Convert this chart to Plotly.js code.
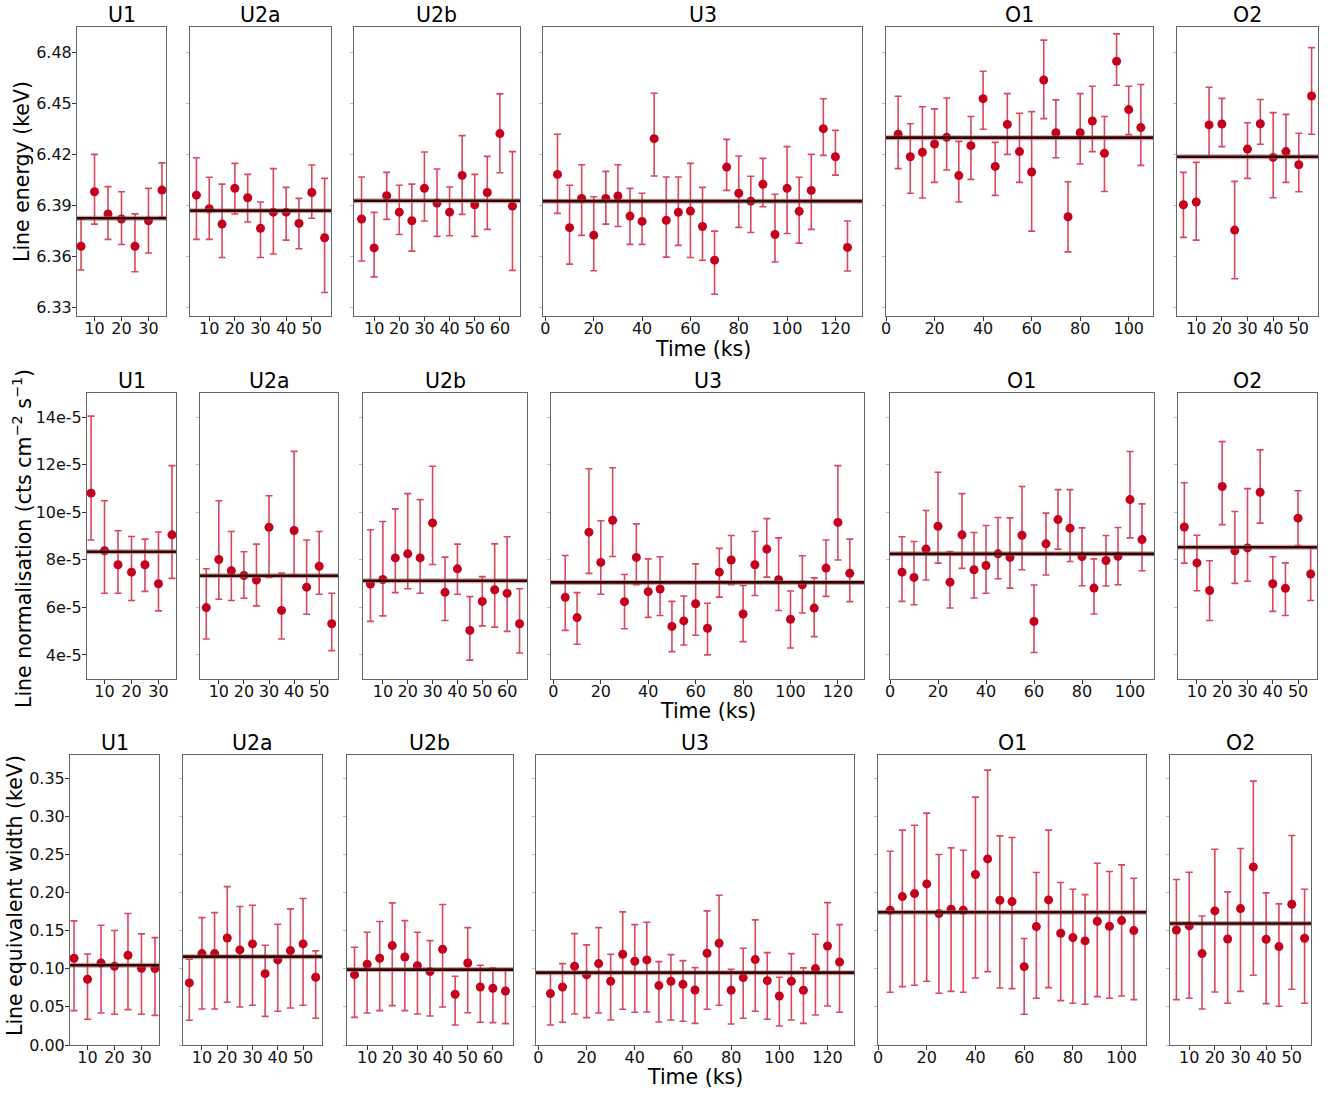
<!DOCTYPE html>
<html>
<head>
<meta charset="utf-8">
<script src="https://cdn.plot.ly/plotly-3.0.1.min.js"></script>
<style>
  body { margin: 0; background: #fff; }
  #chart { width: 1331px; height: 1093px; }
</style>
</head>
<body>
<div id="chart"></div>
<script>
// panels and their time bins (ks)
const panelNames = ["U1", "U2a", "U2b", "U3", "O1", "O2"];
const tU1 = [5, 10, 15, 20, 25, 30, 35];
const tU2a = [5, 10, 15, 20, 25, 30, 35, 40, 45, 50, 55];
const tU2b = [5, 10, 15, 20, 25, 30, 35, 40, 45, 50, 55, 60, 65];
const tU3 = [5, 10, 15, 20, 25, 30, 35, 40, 45, 50, 55, 60, 65, 70, 75, 80, 85, 90, 95, 100, 105, 110, 115, 120, 125];
const tO1 = [5, 10, 15, 20, 25, 30, 35, 40, 45, 50, 55, 60, 65, 70, 75, 80, 85, 90, 95, 100, 105];
const tO2 = [5, 10, 15, 20, 25, 30, 35, 40, 45, 50, 55];

const xTicks = [
  [10, 20, 30],
  [10, 20, 30, 40, 50],
  [10, 20, 30, 40, 50, 60],
  [0, 20, 40, 60, 80, 100, 120],
  [0, 20, 40, 60, 80, 100],
  [10, 20, 30, 40, 50]
];
const xRanges = [[3.5, 36.5], [2.5, 57.5], [2, 68], [-1, 131], [0, 110], [2.5, 57.5]];

// line energy (keV): value, upper bound, lower bound, mean
const eU1 = [6.366, 6.398, 6.385, 6.382, 6.366, 6.381, 6.399];
const eU1Hi = [6.382, 6.420, 6.401, 6.398, 6.385, 6.400, 6.415];
const eU1Lo = [6.352, 6.379, 6.370, 6.367, 6.351, 6.362, 6.383];
const eU2a = [6.396, 6.388, 6.379, 6.400, 6.3945, 6.3765, 6.386, 6.386, 6.3794, 6.3976, 6.371];
const eU2aHi = [6.418, 6.4065, 6.4025, 6.4147, 6.4082, 6.392, 6.4116, 6.4006, 6.3941, 6.4137, 6.4059];
const eU2aLo = [6.370, 6.370, 6.3594, 6.3849, 6.3802, 6.3594, 6.3614, 6.3696, 6.3645, 6.3824, 6.3388];
const eU2b = [6.382, 6.365, 6.3957, 6.386, 6.381, 6.400, 6.3914, 6.386, 6.4076, 6.3904, 6.3976, 6.4322, 6.3896];
const eU2bHi = [6.4067, 6.3859, 6.4094, 6.4018, 6.4025, 6.4214, 6.4114, 6.4008, 6.431, 6.4082, 6.4188, 6.4555, 6.4216];
const eU2bLo = [6.3573, 6.348, 6.3818, 6.3729, 6.3631, 6.3808, 6.3718, 6.3722, 6.3847, 6.3718, 6.3759, 6.4092, 6.3518];
const eU3 = [6.4082, 6.3769, 6.3941, 6.3725, 6.3941, 6.3955, 6.3837, 6.3806, 6.4292, 6.3812, 6.3859, 6.3867, 6.3776,
  6.3578, 6.4125, 6.3971, 6.3925, 6.4024, 6.3729, 6.400, 6.3865, 6.3988, 6.4351, 6.4186, 6.3653];
const eU3Hi = [6.4318, 6.4018, 6.4139, 6.3951, 6.410, 6.4139, 6.400, 6.3971, 6.4559, 6.4067, 6.4067, 6.4147, 6.4006,
  6.3749, 6.4288, 6.419, 6.4071, 6.4176, 6.3965, 6.4245, 6.4065, 6.420, 6.4527, 6.4341, 6.3808];
const eU3Lo = [6.3853, 6.3555, 6.3724, 6.3516, 6.379, 6.3776, 6.3671, 6.3671, 6.4073, 6.3596, 6.3665, 6.3594, 6.3578,
  6.3378, 6.3988, 6.3771, 6.3741, 6.3892, 6.3567, 6.3735, 6.3678, 6.3759, 6.4194, 6.4078, 6.3514];
const eO1 = [6.4318, 6.4186, 6.4212, 6.4261, 6.430, 6.4075, 6.4251, 6.4527, 6.4129, 6.4376, 6.4216, 6.4096, 6.4637,
  6.4327, 6.3833, 6.4327, 6.4396, 6.4206, 6.4747, 6.4463, 6.4357];
const eO1Hi = [6.4541, 6.438, 6.448, 6.4467, 6.4531, 6.4276, 6.4422, 6.4688, 6.427, 6.4557, 6.4441, 6.4451, 6.4871,
  6.452, 6.4039, 6.4557, 6.460, 6.4422, 6.4908, 6.460, 6.461];
const eO1Lo = [6.4116, 6.3971, 6.3943, 6.4035, 6.4108, 6.392, 6.4053, 6.4347, 6.3959, 6.420, 6.4035, 6.3749, 6.441,
  6.418, 6.3627, 6.4143, 6.4216, 6.3982, 6.4606, 6.4316, 6.4135];
const eO2 = [6.3904, 6.392, 6.4373, 6.4378, 6.3755, 6.4231, 6.438, 6.4182, 6.4216, 6.4139, 6.4543];
const eO2Hi = [6.4094, 6.4153, 6.4594, 6.4529, 6.4041, 6.4386, 6.4522, 6.4445, 6.4435, 6.4324, 6.4827];
const eO2Lo = [6.3712, 6.3696, 6.4186, 6.4245, 6.3469, 6.4059, 6.4259, 6.3945, 6.4035, 6.398, 6.4318];
const eMeans = [6.3824, 6.3869, 6.3927, 6.3925, 6.4298, 6.4186];

// line normalisation, in units of 1e-5 cts cm^-2 s^-1
const nU1 = [10.80, 8.38, 7.79, 7.48, 7.79, 6.99, 9.05];
const nU1Hi = [14.04, 10.48, 9.22, 8.98, 8.87, 9.17, 11.96];
const nU1Lo = [8.83, 6.59, 6.59, 6.29, 6.67, 5.85, 7.22];
const nU2a = [5.99, 8.01, 7.54, 7.34, 7.15, 9.37, 5.87, 9.23, 6.85, 7.73, 5.31];
const nU2aHi = [7.62, 10.48, 9.19, 8.34, 8.66, 10.69, 7.44, 12.56, 8.83, 9.19, 6.59];
const nU2aLo = [4.67, 6.34, 6.29, 6.38, 6.06, 7.26, 4.67, 7.36, 5.71, 6.55, 4.18];
const nU2b = [6.98, 7.17, 8.08, 8.25, 8.08, 9.55, 6.63, 7.62, 5.03, 6.25, 6.74, 6.59, 5.31];
const nU2bHi = [9.26, 9.61, 10.14, 10.78, 10.53, 11.93, 8.11, 8.66, 6.45, 7.29, 8.67, 8.97, 6.78];
const nU2bLo = [5.41, 5.64, 6.62, 6.78, 6.59, 7.80, 5.45, 6.55, 3.78, 5.22, 5.17, 4.99, 4.08];
const nU3 = [6.42, 5.57, 9.16, 7.89, 9.66, 6.24, 8.10, 6.66, 6.77, 5.20, 5.43, 6.15, 5.12, 7.48, 7.99, 5.72, 7.79,
  8.45, 7.16, 5.50, 6.95, 5.97, 7.65, 9.57, 7.43];
const nU3Hi = [8.18, 6.62, 11.83, 9.64, 11.87, 7.38, 9.51, 8.04, 8.13, 6.25, 6.48, 7.83, 6.17, 8.48, 9.02, 6.92, 9.19,
  9.73, 8.92, 6.69, 8.17, 7.24, 8.83, 11.96, 8.87];
const nU3Lo = [5.03, 4.45, 7.43, 6.55, 8.14, 5.10, 6.95, 5.58, 5.66, 4.14, 4.42, 4.83, 4.00, 6.43, 6.95, 4.56, 6.50,
  7.27, 5.87, 4.29, 5.76, 4.77, 6.46, 7.99, 6.24];
const nO1 = [7.48, 7.26, 8.45, 9.41, 7.06, 9.05, 7.58, 7.76, 8.25, 8.10, 9.03, 5.41, 8.67, 9.69, 9.33, 8.13, 6.81,
  7.97, 8.15, 10.53, 8.85];
const nO1Hi = [8.97, 8.77, 10.07, 11.68, 8.35, 10.78, 9.15, 9.44, 9.78, 9.76, 11.08, 6.94, 9.96, 10.95, 10.95, 9.34,
  8.04, 9.02, 9.36, 12.55, 10.35];
const nO1Lo = [6.25, 6.11, 7.15, 7.86, 5.97, 7.64, 6.39, 6.59, 7.20, 6.81, 7.58, 4.10, 7.36, 8.45, 7.93, 6.91, 5.72,
  6.90, 6.95, 8.92, 7.54];
const nO2 = [9.38, 7.87, 6.71, 11.08, 8.38, 8.50, 10.84, 6.99, 6.80, 9.75, 7.40];
const nO2Hi = [11.24, 9.03, 7.96, 12.97, 10.03, 10.99, 12.62, 8.13, 7.87, 10.90, 8.50];
const nO2Lo = [7.86, 6.70, 5.45, 9.48, 7.01, 7.10, 9.54, 5.83, 5.66, 8.60, 6.29];
const nMeans = [8.34, 7.33, 7.12, 7.05, 8.25, 8.53];
const normUnit = 1e-5;

// line equivalent width (keV)
const wU1 = [0.1138, 0.0862, 0.1076, 0.1033, 0.1177, 0.1006, 0.1002];
const wU1Hi = [0.1628, 0.1194, 0.1571, 0.1501, 0.1724, 0.1457, 0.1409];
const wU1Lo = [0.0451, 0.0337, 0.042, 0.0403, 0.0464, 0.0403, 0.0389];
const wU2a = [0.0814, 0.1199, 0.1199, 0.1404, 0.1247, 0.1326, 0.0936, 0.1116, 0.1238, 0.1326, 0.0888];
const wU2aHi = [0.1124, 0.1671, 0.1737, 0.2078, 0.1816, 0.1833, 0.1308, 0.1584, 0.1785, 0.1921, 0.1234];
const wU2aLo = [0.0324, 0.0473, 0.0473, 0.056, 0.0499, 0.0521, 0.0376, 0.0442, 0.0486, 0.0521, 0.035];
const wU2b = [0.0923, 0.1059, 0.1138, 0.1304, 0.1155, 0.1041, 0.0963, 0.1256, 0.0665, 0.1076, 0.0761, 0.0744, 0.0709];
const wU2bHi = [0.1282, 0.1479, 0.1619, 0.1864, 0.1632, 0.1479, 0.1369, 0.1842, 0.0901, 0.154, 0.1046, 0.1011, 0.098];
const wU2bLo = [0.0363, 0.042, 0.0451, 0.0516, 0.0451, 0.0407, 0.0381, 0.0499, 0.0263, 0.0424, 0.0298, 0.0293, 0.028];
const wU3 = [0.0674, 0.0761, 0.1033, 0.0919, 0.1068, 0.0836, 0.119, 0.1098, 0.1116, 0.0779, 0.0836, 0.0796, 0.0722,
  0.1203, 0.1334, 0.0718, 0.0884, 0.112, 0.0844, 0.0643, 0.0836, 0.0718, 0.1002, 0.1299, 0.1089];
const wU3Hi = [0.0941, 0.1068, 0.1461, 0.1313, 0.154, 0.119, 0.1746, 0.1579, 0.161, 0.1094, 0.1186, 0.1107, 0.1015,
  0.1759, 0.1964, 0.0993, 0.1269, 0.1641, 0.1212, 0.0888, 0.1199, 0.1011, 0.1453, 0.1868, 0.1579];
const wU3Lo = [0.0263, 0.0298, 0.0407, 0.0359, 0.042, 0.0328, 0.0468, 0.0429, 0.0433, 0.0302, 0.0328, 0.0311, 0.0284,
  0.0468, 0.0521, 0.0276, 0.035, 0.0442, 0.0337, 0.0249, 0.0328, 0.0284, 0.0394, 0.0512, 0.0429];
const wO1 = [0.1768, 0.1947, 0.1986, 0.2113, 0.1724, 0.1781, 0.1768, 0.2236, 0.2441, 0.1899, 0.1881, 0.1028, 0.1553,
  0.1903, 0.1466, 0.1409, 0.1365, 0.1623, 0.1558, 0.1632, 0.1501];
const wO1Hi = [0.2542, 0.2818, 0.2883, 0.3041, 0.2498, 0.2586, 0.2555, 0.3251, 0.3605, 0.2743, 0.2721, 0.1396, 0.2262,
  0.2818, 0.2131, 0.2043, 0.1973, 0.2384, 0.2275, 0.2363, 0.2188];
const wO1Lo = [0.0691, 0.0766, 0.0783, 0.0836, 0.0678, 0.0704, 0.0691, 0.0879, 0.0963, 0.0748, 0.0739, 0.0403, 0.0613,
  0.0753, 0.0582, 0.0547, 0.0534, 0.0634, 0.0613, 0.0643, 0.0595];
const wO2 = [0.1509, 0.1562, 0.1199, 0.1759, 0.1391, 0.1789, 0.2336, 0.1387, 0.1291, 0.1846, 0.14];
const wO2Hi = [0.217, 0.2266, 0.1693, 0.2568, 0.2008, 0.2577, 0.3461, 0.1995, 0.1851, 0.2748, 0.2043];
const wO2Lo = [0.0595, 0.0613, 0.0473, 0.0696, 0.0547, 0.0704, 0.0914, 0.0543, 0.0508, 0.0731, 0.0547];
const wMeans = [0.1046, 0.1159, 0.0989, 0.0949, 0.1741, 0.1593];

const times = [tU1, tU2a, tU2b, tU3, tO1, tO2];

const W = 1331, H = 1093;
const FONT = "DejaVu Sans, Liberation Sans, sans-serif";
const pointColor = "#c4001c";
const barColor = "rgba(200, 0, 30, 0.72)";
const BIG = 20.5;   // titles and axis labels
const TICK = 16;    // tick labels

// pixel boxes of each row (left/right edges of the six panels, top/bottom)
const rows = [
  {
    label: "Line energy (keV)", labelX: 22, labelY: 172,
    top: 26.7, bottom: 316, titleY: 14.5, timeY: 349,
    lefts: [77, 190, 354, 543, 886, 1177], rights: [166, 331, 520, 862, 1153, 1318],
    yRange: [6.325, 6.495],
    yTicks: [6.33, 6.36, 6.39, 6.42, 6.45, 6.48], yText: ["6.33", "6.36", "6.39", "6.42", "6.45", "6.48"],
    scale: 1,
    vals: [eU1, eU2a, eU2b, eU3, eO1, eO2],
    his: [eU1Hi, eU2aHi, eU2bHi, eU3Hi, eO1Hi, eO2Hi],
    los: [eU1Lo, eU2aLo, eU2bLo, eU3Lo, eO1Lo, eO2Lo],
    means: eMeans
  },
  {
    label: "Line normalisation (cts cm<sup>\u22122</sup> s<sup>\u22121</sup>)", labelX: 23, labelY: 539,
    top: 393.3, bottom: 678.7, titleY: 381, timeY: 711,
    lefts: [87, 200, 363, 551, 890, 1178], rights: [176, 338, 527, 864, 1154, 1317],
    yRange: [3e-5, 15e-5],
    yTicks: [4e-5, 6e-5, 8e-5, 10e-5, 12e-5, 14e-5], yText: ["4e-5", "6e-5", "8e-5", "10e-5", "12e-5", "14e-5"],
    scale: normUnit,
    vals: [nU1, nU2a, nU2b, nU3, nO1, nO2],
    his: [nU1Hi, nU2aHi, nU2bHi, nU3Hi, nO1Hi, nO2Hi],
    los: [nU1Lo, nU2aLo, nU2bLo, nU3Lo, nO1Lo, nO2Lo],
    means: nMeans
  },
  {
    label: "Line equivalent width (keV)", labelX: 15, labelY: 896,
    top: 755.3, bottom: 1045, titleY: 743, timeY: 1077,
    lefts: [70, 183, 347, 536, 878, 1170], rights: [159, 322, 513, 854, 1146, 1311],
    yRange: [0, 0.38],
    yTicks: [0, 0.05, 0.1, 0.15, 0.2, 0.25, 0.3, 0.35],
    yText: ["0.00", "0.05", "0.10", "0.15", "0.20", "0.25", "0.30", "0.35"],
    scale: 1,
    vals: [wU1, wU2a, wU2b, wU3, wO1, wO2],
    his: [wU1Hi, wU2aHi, wU2bHi, wU3Hi, wO1Hi, wO2Hi],
    los: [wU1Lo, wU2aLo, wU2bLo, wU3Lo, wO1Lo, wO2Lo],
    means: wMeans
  }
];

const traces = [];
const shapes = [];
const annotations = [];
const layout = {
  width: W, height: H,
  margin: {l: 0, r: 0, t: 0, b: 0},
  paper_bgcolor: "#fff", plot_bgcolor: "#fff",
  showlegend: false,
  font: {family: FONT, color: "#000", size: TICK}
};

function px2x(px) { return px / W; }
function px2y(py) { return 1 - py / H; }

let k = 0;
rows.forEach((row, r) => {
  panelNames.forEach((name, p) => {
    k++;
    const sfx = k === 1 ? "" : String(k);
    const s = row.scale;
    const v = row.vals[p].map(d => d * s);
    const hi = row.his[p].map(d => d * s);
    const lo = row.los[p].map(d => d * s);

    traces.push({
      x: times[p], y: v,
      xaxis: "x" + sfx, yaxis: "y" + sfx,
      type: "scatter", mode: "markers",
      marker: {color: pointColor, size: 9},
      error_y: {
        type: "data", symmetric: false,
        array: hi.map((h, i) => h - v[i]),
        arrayminus: lo.map((l, i) => v[i] - l),
        color: barColor, thickness: 1.6, width: 3.5
      },
      hoverinfo: "x+y"
    });

    const first = p === 0;
    layout["xaxis" + sfx] = {
      domain: [px2x(row.lefts[p]), px2x(row.rights[p])],
      anchor: "y" + sfx,
      range: xRanges[p],
      tickvals: xTicks[p],
      ticks: "outside", ticklen: 4, tickcolor: "#333",
      ticklabelstandoff: -6,
      showline: true, mirror: true, linecolor: "#666", linewidth: 1,
      showgrid: false, zeroline: false,
      tickfont: {family: FONT, size: TICK, color: "#111"}
    };
    layout["yaxis" + sfx] = {
      domain: [px2y(row.bottom), px2y(row.top)],
      anchor: "x" + sfx,
      range: row.yRange,
      tickvals: row.yTicks,
      ticktext: row.yText,
      showticklabels: first,
      ticks: "outside", ticklen: first ? 4 : 3,
      tickcolor: first ? "#333" : "#bbb",
      ticklabelstandoff: -3,
      showline: true, mirror: true, linecolor: "#666", linewidth: 1,
      showgrid: false, zeroline: false,
      tickfont: {family: FONT, size: TICK, color: "#111"}
    };

    // weighted mean line
    const m = row.means[p] * s;
    shapes.push({
      type: "line", xref: "x" + sfx + " domain", yref: "y" + sfx,
      x0: 0, x1: 1, y0: m, y1: m,
      line: {color: "rgba(140, 100, 100, 0.55)", width: 5}
    });
    shapes.push({
      type: "line", xref: "x" + sfx + " domain", yref: "y" + sfx,
      x0: 0, x1: 1, y0: m, y1: m,
      line: {color: "#3c0000", width: 2.6}
    });

    annotations.push({
      text: name, xref: "paper", yref: "paper",
      x: px2x((row.lefts[p] + row.rights[p]) / 2), y: px2y(row.titleY),
      xanchor: "center", yanchor: "middle", showarrow: false,
      font: {family: FONT, size: BIG, color: "#000"}
    });
  });

  annotations.push({
    text: "Time (ks)", xref: "paper", yref: "paper",
    x: px2x((row.lefts[3] + row.rights[3]) / 2), y: px2y(row.timeY),
    xanchor: "center", yanchor: "middle", showarrow: false,
    font: {family: FONT, size: BIG, color: "#000"}
  });
  annotations.push({
    text: row.label, xref: "paper", yref: "paper",
    x: px2x(row.labelX), y: px2y(row.labelY),
    xanchor: "center", yanchor: "middle", showarrow: false, textangle: -90,
    font: {family: FONT, size: BIG, color: "#000"}
  });
});

layout.shapes = shapes;
layout.annotations = annotations;

Plotly.newPlot("chart", traces, layout, {displayModeBar: false, responsive: false});
</script>
</body>
</html>
